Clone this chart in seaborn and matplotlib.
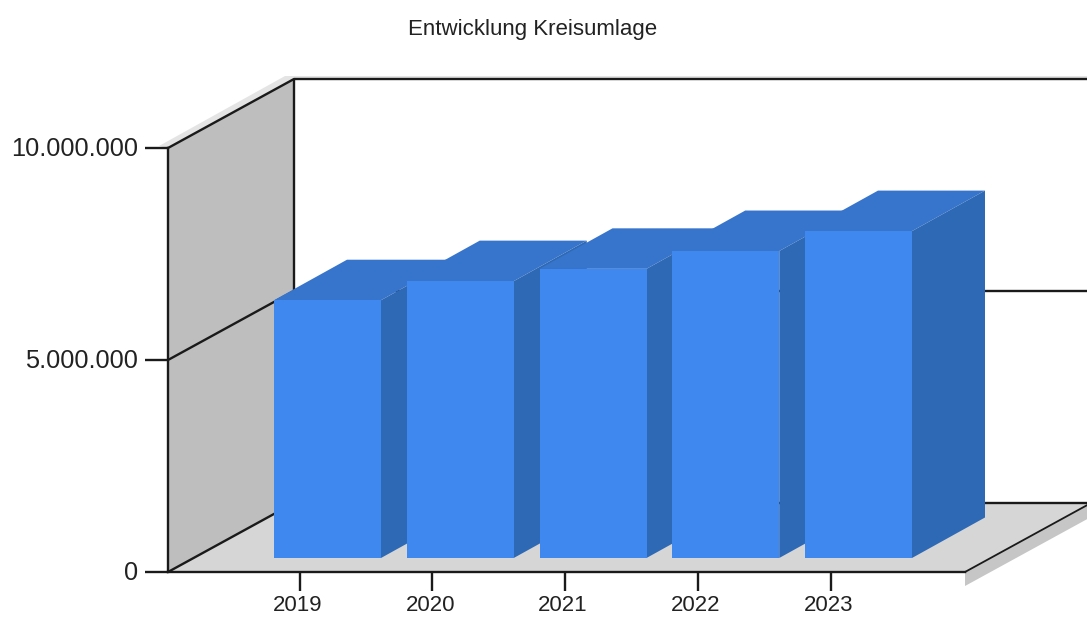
import matplotlib
matplotlib.use("Agg")
import matplotlib.pyplot as plt
import numpy as np
import pandas as pd
import seaborn as sns
from matplotlib.patches import Polygon
from matplotlib.transforms import ScaledTranslation

years = ["2019", "2020", "2021", "2022", "2023"]
values = [6080000, 6530000, 6820000, 7240000, 7710000]
y_ticks = [0, 5000000, 10000000]
y_tick_labels = ["0", "5.000.000", "10.000.000"]
title = "Entwicklung Kreisumlage"

W, H = 1087, 617
FRONT = "#3F88EF"
TOP = "#3775CC"
SIDE = "#2E69B5"
LINE = "#1a1a1a"

sns.set_theme(style="white")
plt.rcParams["font.family"] = ["Liberation Sans", "DejaVu Sans"]

fig = plt.figure(figsize=(W / 100, H / 100), dpi=100)
# axes box is the front plane of the fake 3D chart
ax = fig.add_axes([168 / W, 1 - 572 / H, (965 - 168) / W, 424 / H])

df = pd.DataFrame({"year": years, "value": values})
sns.barplot(data=df, x="year", y="value", color=FRONT, saturation=1, width=107 / 132.75,
            linewidth=0, edgecolor="none", ax=ax)
bars = list(ax.containers[0])

x_px = 132.75
y_px = 42.4 / 1e6
ax.set_xlim((168 - 327.5) / x_px, (965 - 327.5) / x_px)
ax.set_ylim(0, 10000000)
x0, x1 = ax.get_xlim()
top = y_ticks[-1]

wall_dx, wall_dy = 126 / x_px, 69 / y_px
bar_dx, bar_dy = 73 / x_px, 40.5 / y_px
floor_gap = 14 / y_px


def poly(points, color, z):
    ax.add_patch(Polygon(points, closed=True, facecolor=color, edgecolor="none", clip_on=False, zorder=z))


def line(xs, ys, z=2, lw=1.7, color=LINE):
    ax.plot(xs, ys, color=color, lw=lw, clip_on=False, zorder=z, solid_capstyle="butt")


# wall, floor and their shadows
poly([(x0, 0), (x0 + wall_dx, wall_dy), (x0 + wall_dx, top + wall_dy), (x0, top)], "#BEBEBE", 0.5)
poly([(x0, 0), (x1, 0), (x1 + wall_dx, wall_dy), (x0 + wall_dx, wall_dy)], "#D6D6D6", 0.6)
poly([(x1, 0), (x1, -14 / y_px), (x1 + wall_dx, wall_dy - 14 / y_px), (x1 + wall_dx, wall_dy)], "#C6C6C6", 0.6)
poly([(x0 - 9 / x_px, top + 2 / y_px), (x0 + wall_dx - 9 / x_px, top + wall_dy + 3 / y_px),
      (x1 + wall_dx, top + wall_dy + 3 / y_px), (x1 + wall_dx, top + wall_dy),
      (x0 + wall_dx, top + wall_dy), (x0, top)], "#E4E4E4", 0.4)

# grid lines running over the wall and the back plane
for v in y_ticks:
    line([x0, x0 + wall_dx, x1 + wall_dx], [v, v + wall_dy, v + wall_dy])
line([x0 + wall_dx, x0 + wall_dx], [wall_dy, top + wall_dy])
line([x1, x1 + wall_dx], [0, wall_dy], lw=1.3)

# bars: front from seaborn, top and side built from each bar's rectangle
for i, bar in enumerate(bars):
    z = 3 + i
    bar.set_y(floor_gap)
    bar.set_zorder(z + 0.5)
    left, right = bar.get_x(), bar.get_x() + bar.get_width()
    y_low, y_top = floor_gap, floor_gap + bar.get_height()
    poly([(left, y_top), (right, y_top), (right + bar_dx, y_top + bar_dy), (left + bar_dx, y_top + bar_dy)], TOP, z)
    poly([(right, y_low), (right + bar_dx, y_low + bar_dy), (right + bar_dx, y_top + bar_dy), (right, y_top)], SIDE, z)

ax.set_xticks(np.arange(len(years)) - 28 / x_px, years)
ax.set_yticks(y_ticks, y_tick_labels)
ax.set_xlabel("")
ax.set_ylabel("")
ax.set_xlim(x0, x1)
ax.patch.set_alpha(0)
ax.spines["top"].set_visible(False)
ax.spines["right"].set_visible(False)
for side in ("left", "bottom"):
    ax.spines[side].set_color(LINE)
    ax.spines[side].set_linewidth(1.7)
    ax.spines[side].set_zorder(2)
ax.tick_params(axis="y", length=16.5, width=1.7, color=LINE, pad=5, labelsize=18.3, labelcolor="#222222", left=True)
ax.tick_params(axis="x", length=14, width=1.7, color=LINE, pad=1.5, labelsize=16, labelcolor="#222222", bottom=True)

# labels sit a little off their ticks in the reference
y_shift = ScaledTranslation(0, 2 / 100, fig.dpi_scale_trans)
x_shift = ScaledTranslation(-2 / 100, -1 / 100, fig.dpi_scale_trans)
for lab in ax.get_yticklabels():
    lab.set_transform(lab.get_transform() + y_shift)
for lab in ax.get_xticklabels():
    lab.set_transform(lab.get_transform() + x_shift)

fig.text(532.5 / W, 1 - 29.5 / H, title, ha="center", va="center", fontsize=16, color="#222222")

fig.savefig("out.png", dpi=100, facecolor="white")
